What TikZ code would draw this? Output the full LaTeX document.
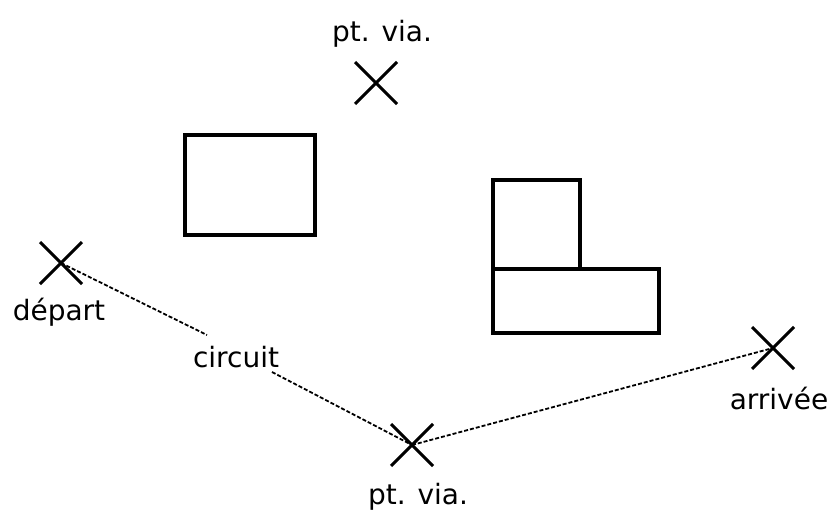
\documentclass[tikz,border=0pt]{standalone}
\usepackage{fontspec}
\setmainfont{DejaVu Sans}
\usetikzlibrary{shapes.misc}
\begin{document}
\begin{tikzpicture}[x=1pt,y=-1pt,
  xmark/.style={cross out,draw,line width=3pt,minimum size=39pt,inner sep=0pt},
  lbl/.style={font=\fontsize{28}{32}\selectfont,inner sep=0pt},
  obst/.style={draw,line width=3.2pt},
  route/.style={line width=1.8pt,dash pattern=on 4pt off 2pt}]
\useasboundingbox (0,0) rectangle (833,511);
\node[xmark] (dep) at (61,263) {};
\node[xmark] (via1) at (376,83) {};
\node[xmark] (via2) at (412,445) {};
\node[xmark] (arr) at (773,348) {};
\node[lbl] (tdep) at (59,312) {départ};
\node[lbl] (tvia1) at (382,34) {pt. via.};
\node[lbl] (tvia2) at (418,497) {pt. via.};
\node[lbl] (tarr) at (779,398) {arrivée};
\node[lbl] (circ) at (236,357) {circuit};
\draw[obst] (185,135) rectangle (315,235);
\draw[obst] (493,180) rectangle (580,269);
\draw[obst] (493,269) rectangle (659,333);
\coordinate (c1) at ([xshift=-29pt,yshift=22pt]circ.center);
\coordinate (c2) at ([xshift=36pt,yshift=-15pt]circ.center);
\draw[route] (dep.center) -- (c1);
\draw[route] (c2) -- (via2.center);
\draw[route] (via2.center) -- (arr.center);
\end{tikzpicture}
\end{document}
